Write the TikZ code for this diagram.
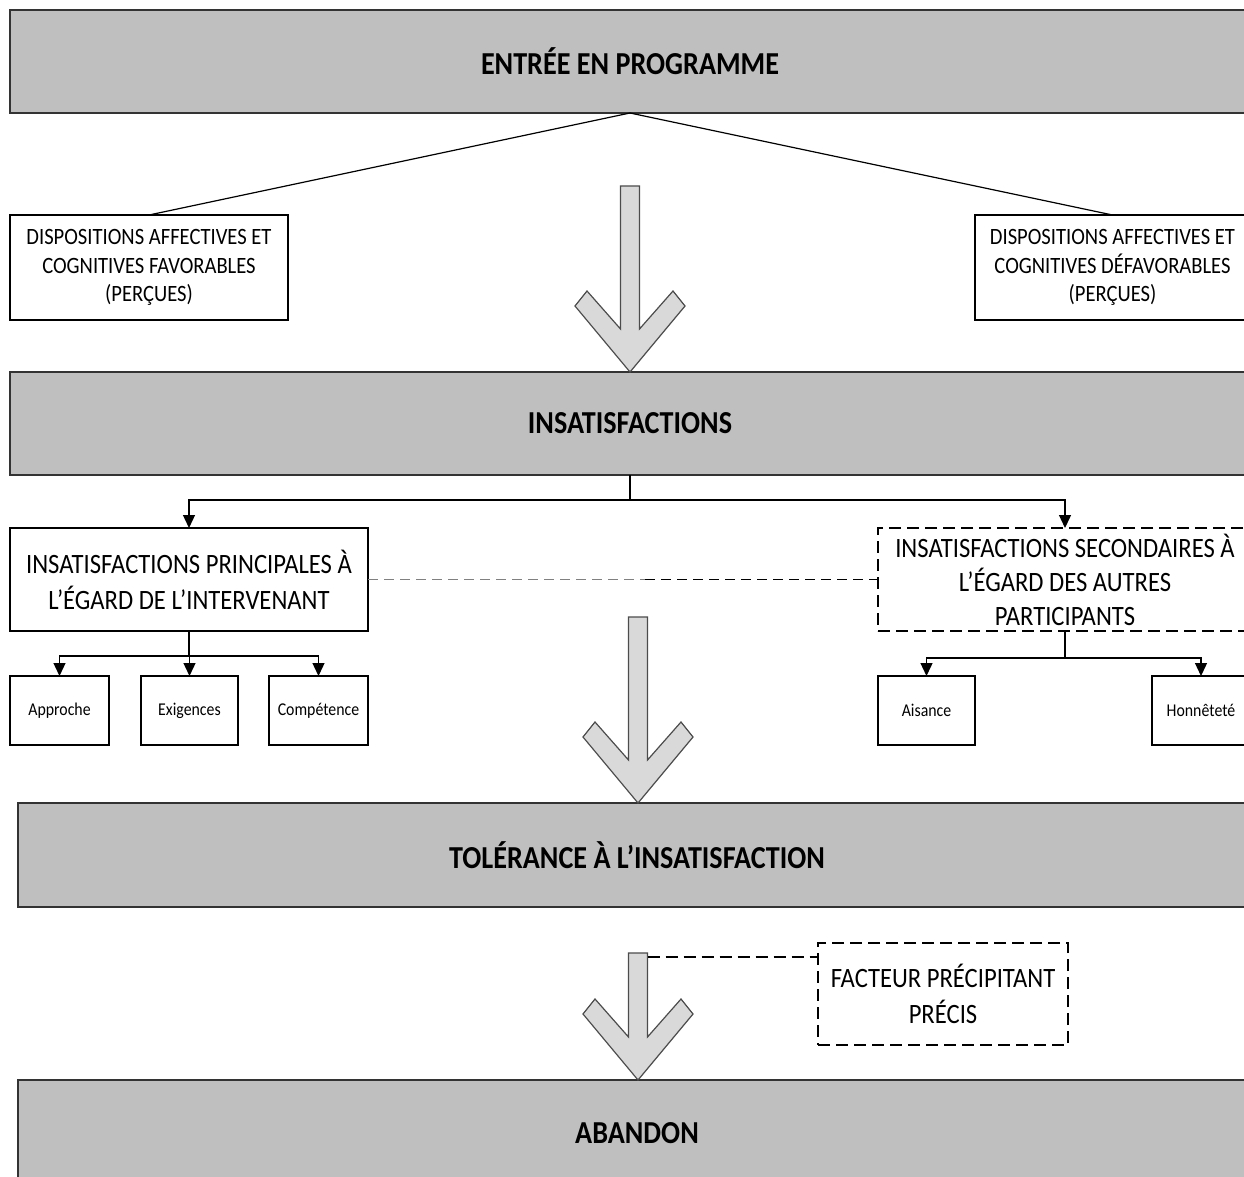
\documentclass[tikz,border=0pt]{standalone}
\usepackage{fontspec}
\setmainfont[FakeStretch=0.88]{Carlito}
\usetikzlibrary{arrows.meta}

\tikzset{
  bar/.style={draw=black!80, line width=2pt, fill=black!25, anchor=north west,
    inner sep=0pt, outer sep=0pt, font=\bfseries\fontsize{32}{36}\selectfont},
  infobox/.style={draw, line width=1.2pt, fill=white, anchor=north west,
    inner sep=0pt, outer sep=0pt, align=center},
  dashbox/.style={infobox, dash pattern=on 12pt off 6pt},
  leaf/.style={infobox, minimum height=69pt, font=\fontsize{18}{20}\selectfont},
  link/.style={line width=1.3pt, -{Triangle[width=12pt,length=13pt]}},
  bigarrow/.style={draw=black!70, line width=1.2pt, fill=black!15, line join=miter}
}

\begin{document}
\begin{tikzpicture}[x=1pt, y=-1pt]
  \useasboundingbox (0, 0) rectangle (1244, 1177);
  \clip (0, 0) rectangle (1244, 1177);

  % Main stages
  \node[bar, minimum width=1240pt, minimum height=103pt] (entree) at (10, 10) {ENTRÉE EN PROGRAMME};
  \node[bar, minimum width=1240pt, minimum height=103pt] (insat) at (10, 372) {INSATISFACTIONS};
  \node[bar, minimum width=1238pt, minimum height=104pt] (tolerance) at (18, 803) {TOLÉRANCE À L’INSATISFACTION};
  \node[bar, minimum width=1238pt, minimum height=106pt] (abandon) at (18, 1080) {ABANDON};

  % Dispositions
  \node[infobox, minimum width=278pt, minimum height=105pt, font=\fontsize{23.4}{28.5}\selectfont]
    (favor) at (10, 215) {DISPOSITIONS AFFECTIVES ET\\COGNITIVES FAVORABLES\\(PERÇUES)};
  \node[infobox, minimum width=275pt, minimum height=105pt, font=\fontsize{23.4}{28.5}\selectfont]
    (defavor) at (975, 215) {DISPOSITIONS AFFECTIVES ET\\COGNITIVES DÉFAVORABLES\\(PERÇUES)};
  \draw[line width=1.2pt] (entree.south) -- (favor.north);
  \draw[line width=1.2pt] (entree.south) -- (defavor.north);

  % Kinds of dissatisfaction
  \node[infobox, minimum width=358pt, minimum height=103pt, font=\fontsize{28}{36}\selectfont]
    (princ) at (10, 528) {INSATISFACTIONS PRINCIPALES À\\L’ÉGARD DE L’INTERVENANT};
  \node[dashbox, minimum width=374pt, minimum height=103pt, font=\fontsize{28}{34}\selectfont]
    (second) at (878, 528) {INSATISFACTIONS SECONDAIRES À\\L’ÉGARD DES AUTRES\\PARTICIPANTS};
  \draw[link] (insat.south) -- ++(0, 25) -| (princ.north);
  \draw[link] (insat.south) -- ++(0, 25) -| (second.north);

  \coordinate (mid) at (645, 579.5);
  \draw[black!50, line width=1.8pt, dash pattern=on 10pt off 6pt] (princ.east) -- (mid);
  \draw[line width=1.8pt, dash pattern=on 10pt off 6pt] (mid) -- (second.west);

  % Details
  \node[leaf, minimum width=99pt] (approche) at (10, 676) {Approche};
  \node[leaf, minimum width=97pt] (exigences) at (141, 676) {Exigences};
  \node[leaf, minimum width=99pt] (competence) at (269, 676) {Compétence};
  \node[leaf, minimum width=97pt] (aisance) at (878, 676) {Aisance};
  \node[leaf, minimum width=98pt] (honnetete) at (1152, 676) {Honnêteté};
  \draw[link] (princ.south) -- ++(0, 25) -| (approche.north);
  \draw[link] (princ.south) -- ++(0, 25) -| (exigences.north);
  \draw[link] (princ.south) -- ++(0, 25) -| (competence.north);
  \draw[link] (second.south) -- ++(0, 27) -| (aisance.north);
  \draw[link] (second.south) -- ++(0, 27) -| (honnetete.north);

  % Trigger
  \node[dashbox, minimum width=250pt, minimum height=102pt, font=\fontsize{28}{36}\selectfont]
    (facteur) at (818, 943) {FACTEUR PRÉCIPITANT\\PRÉCIS};

  % Big arrows (tip x / tip y / length)
  \foreach \tx/\ty/\len in {630/372/186, 638/803/186, 638/1080/127}
    \draw[bigarrow, shift={(\tx, \ty)}] (0, 0) -- (-55, -66) -- (-43, -81) -- (-9.5, -43)
      -- (-9.5, -\len) -- (9.5, -\len) -- (9.5, -43) -- (43, -81) -- (55, -66) -- cycle;

  \coordinate (shaft) at (647.5, 957);
  \draw[line width=1.2pt, dash pattern=on 12pt off 6pt] (shaft) -- (shaft -| facteur.west);
\end{tikzpicture}
\end{document}
